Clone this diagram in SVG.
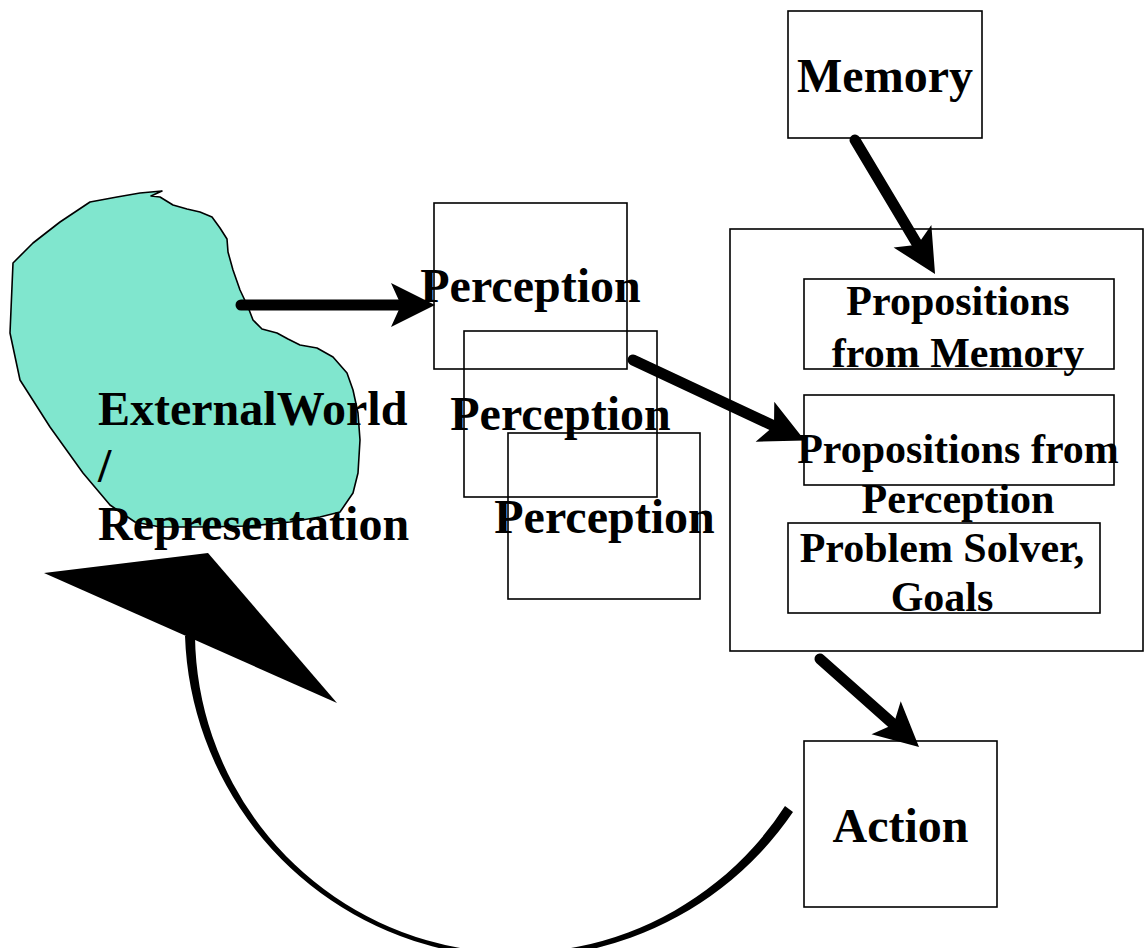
<svg xmlns="http://www.w3.org/2000/svg" width="1145" height="948" viewBox="0 0 1145 948">
  <defs>
    <style>
      .box { fill: none; stroke: #000; stroke-width: 1.6; }
      .lbl { font-family: "Liberation Serif", "Times New Roman", serif; font-weight: bold; fill: #000; }
      .big { font-size: 48px; }
      .mid { font-size: 42px; }
      .shaft { stroke: #000; stroke-width: 11; stroke-linecap: round; fill: none; }
    </style>
    <marker id="head" markerUnits="userSpaceOnUse" markerWidth="50" markerHeight="50" refX="10" refY="0" viewBox="-2 -25 50 50" orient="auto">
      <path d="M 0 -22 L 44 0 L 0 22 L 10 0 Z" fill="#000"/>
    </marker>
  </defs>

  <rect width="1145" height="948" fill="#fff"/>

  <!-- external world blob -->
  <g id="external-world">
    <path d="M 13 263 L 33 243 L 60 222 L 90 202 L 117 197 L 140 193 L 162 191 L 151 196 L 160 197 L 173 205 L 187 209 L 200 212 L 212 217 L 220 228 L 227 239 L 228 252 L 233 270 L 240 290 L 248 307 L 253 320 L 262 329 L 277 333 L 288 339 L 300 345 L 317 348 L 333 357 L 347 373 L 353 390 L 358 413 L 360 440 L 358 473 L 353 493 L 340 512 L 320 517 L 290 522 L 250 526 L 200 527 L 160 527 L 135 522 L 110 505 L 83 473 L 50 427 L 20 380 L 10 333 Z" fill="#80e6ce" stroke="#000" stroke-width="1.6" stroke-linejoin="round"/>
    <text class="lbl big" x="98" y="425">ExternalWorld</text>
    <text class="lbl big" x="98" y="482">/</text>
    <text class="lbl big" x="98" y="540">Representation</text>
  </g>

  <!-- perception stack -->
  <g id="perception-1">
    <rect class="box" x="434" y="203" width="193" height="166"/>
    <text class="lbl big" x="530.5" y="302" text-anchor="middle">Perception</text>
  </g>
  <g id="perception-2">
    <rect class="box" x="464" y="331" width="193" height="166"/>
    <text class="lbl big" x="560.5" y="430" text-anchor="middle">Perception</text>
  </g>
  <g id="perception-3">
    <rect class="box" x="508" y="433" width="192" height="166"/>
    <text class="lbl big" x="604.5" y="533" text-anchor="middle">Perception</text>
  </g>

  <!-- memory -->
  <g id="memory">
    <rect class="box" x="788" y="11" width="194" height="127"/>
    <text class="lbl big" x="885" y="92" text-anchor="middle">Memory</text>
  </g>

  <!-- working area -->
  <g id="workspace">
    <rect class="box" x="730" y="229" width="413" height="422"/>
  </g>
  <g id="props-memory">
    <rect class="box" x="804" y="279" width="310" height="90"/>
    <text class="lbl mid" x="958" y="315" text-anchor="middle">Propositions</text>
    <text class="lbl mid" x="958" y="367" text-anchor="middle">from Memory</text>
  </g>
  <g id="props-perception">
    <rect class="box" x="804" y="395" width="310" height="90"/>
    <text class="lbl mid" x="958" y="463" text-anchor="middle">Propositions from</text>
    <text class="lbl mid" x="958" y="513" text-anchor="middle">Perception</text>
  </g>
  <g id="problem-solver">
    <rect class="box" x="788" y="523" width="312" height="90"/>
    <text class="lbl mid" x="942" y="562" text-anchor="middle">Problem Solver,</text>
    <text class="lbl mid" x="942" y="611" text-anchor="middle">Goals</text>
  </g>

  <!-- action -->
  <g id="action">
    <rect class="box" x="804" y="741" width="193" height="166"/>
    <text class="lbl big" x="900.5" y="842" text-anchor="middle">Action</text>
  </g>

  <!-- connectors -->
  <g id="connectors">
    <line class="shaft" x1="241" y1="305" x2="401" y2="305" marker-end="url(#head)"/>
    <line class="shaft" x1="633" y1="360" x2="774" y2="426" marker-end="url(#head)"/>
    <line class="shaft" x1="855" y1="140" x2="917.6" y2="244.8" marker-end="url(#head)"/>
    <line class="shaft" x1="820" y1="659" x2="893.6" y2="724.4" marker-end="url(#head)"/>
    <!-- return arc from action back to the world, thinner in the middle -->
    <path d="M 793 812 A 333 333 0 0 1 185 636 L 195 636 A 320.6 320.6 0 0 0 785 806 Z" fill="#000"/>
    <polygon points="44,573 208,553 337,703" fill="#000"/>
  </g>
</svg>
